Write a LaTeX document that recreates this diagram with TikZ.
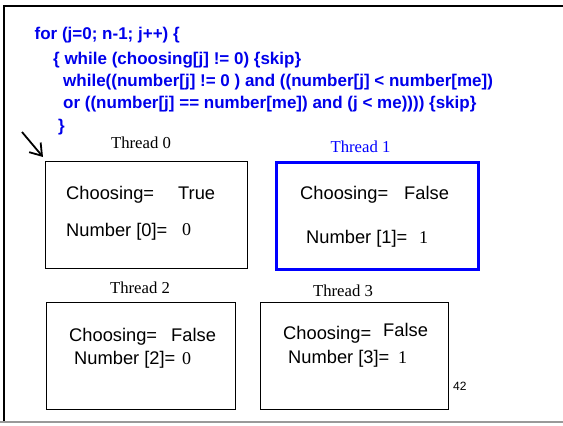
\documentclass[tikz,border=0pt]{standalone}
\usepackage{fontspec}
\setmainfont{Liberation Sans}
\newfontfamily\serifrm{Liberation Serif}
\usetikzlibrary{arrows.meta}
\definecolor{codeblue}{RGB}{0,0,235}
\definecolor{boxblue}{RGB}{0,0,255}
\tikzset{
  codeline/.style={inner sep=0, anchor=base west, text=codeblue, font=\fontsize{17}{20}\selectfont\bfseries},
  lab/.style={inner sep=0, anchor=base west, font=\fontsize{18.3}{20}\selectfont},
  val/.style={inner sep=0, anchor=base west, font=\serifrm\fontsize{18}{20}\selectfont},
  thr/.style={inner sep=0, anchor=base, font=\serifrm\fontsize{16.7}{20}\selectfont},
  tbox/.style={draw=black, line width=0.9pt, inner sep=0, anchor=north west},
  bluebox/.style={draw=boxblue, line width=2.6pt, inner sep=0, anchor=north west},
}
\begin{document}
\begin{tikzpicture}[x=1pt,y=-1pt]
\useasboundingbox (0,0) rectangle (563,426);
% slide frame
\coordinate (tl) at (4,6);
\coordinate (tr) at (563,6);
\coordinate (bl) at (4,423);
\coordinate (gl) at (0,422);
\coordinate (gr) at (563,422);
\draw[line width=2pt, black] (tr) -- (tl) -- (bl);
\draw[line width=1.5pt, black!40] (gl) -- (gr);

% code
\node[codeline] (c1) at (34.5,39) {for (j=0; n-1; j++) \{};
\node[codeline] (c2) at (53,64) {\{ while (choosing[j] != 0) \{skip\}};
\node[codeline] (c3) at (63,86) {while((number[j] != 0 ) and ((number[j] < number[me])};
\node[codeline] (c4) at (63,108) {or ((number[j] == number[me]) and (j < me)))) \{skip\}};
\node[codeline] (c5) at (58,131) {\}};

% arrow
\coordinate (as) at (22,132);
\coordinate (ae) at (43,157);
\draw[line width=1.8pt, -{Straight Barb[length=11pt,width=15pt,line width=1.8pt]}] (as) -- (ae);

% thread 0
\node[thr] (t0) at (141,148.5) {Thread 0};
\node[tbox, minimum width=202pt, minimum height=107pt] (b0) at (45,161) {};
\node[lab] (ch0) at (66,199.5) {Choosing=};
\node[lab] (cv0) at (178,199.5) {True};
\node[lab] (n0) at (66,236.5) {Number [0]=};
\node[val] (nv0) at (182,235) {0};

% thread 1
\node[thr, text=boxblue] (t1) at (360.5,152.5) {Thread 1};
\node[bluebox, minimum width=202pt, minimum height=107pt] (b1) at (275,161) {};
\node[lab] (ch1) at (300,199.5) {Choosing=};
\node[lab] (cv1) at (404,199.5) {False};
\node[lab] (n1) at (306,243.5) {Number [1]=};
\node[val] (nv1) at (419,243) {1};

% thread 2
\node[thr] (t2) at (140,293.5) {Thread 2};
\node[tbox, minimum width=189pt, minimum height=107pt] (b2) at (46,302) {};
\node[lab] (ch2) at (69,341.5) {Choosing=};
\node[lab] (cv2) at (171,341.5) {False};
\node[lab] (n2) at (74,364.5) {Number [2]=};
\node[val] (nv2) at (182,364) {0};

% thread 3
\node[thr] (t3) at (343,296.5) {Thread 3};
\node[tbox, minimum width=188pt, minimum height=107pt] (b3) at (260,302) {};
\node[lab] (ch3) at (283,339.5) {Choosing=};
\node[lab] (cv3) at (383,336.5) {False};
\node[lab] (n3) at (288,363.5) {Number [3]=};
\node[val] (nv3) at (398,363) {1};

% page number
\node[inner sep=0, anchor=base west, font=\fontsize{12}{14}\selectfont] (pg) at (453,390.5) {42};
\end{tikzpicture}
\end{document}
